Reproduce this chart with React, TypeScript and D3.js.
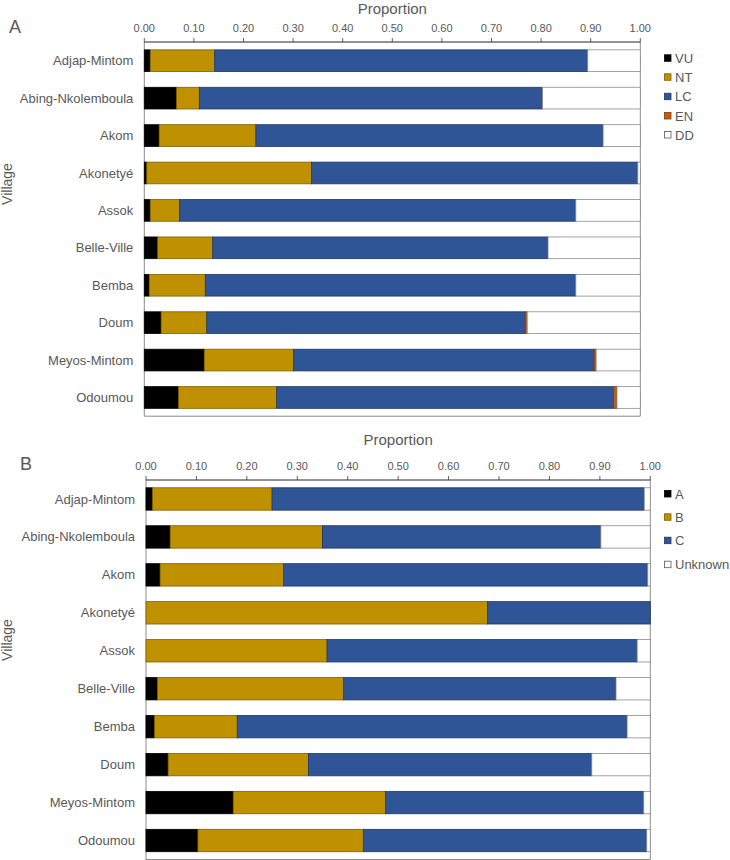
import React from "react";
import * as d3 from "d3";

const villages = [
  "Adjap-Mintom",
  "Abing-Nkolemboula",
  "Akom",
  "Akonetyé",
  "Assok",
  "Belle-Ville",
  "Bemba",
  "Doum",
  "Meyos-Mintom",
  "Odoumou",
];

const tickValues = [0, 0.1, 0.2, 0.3, 0.4, 0.5, 0.6, 0.7, 0.8, 0.9, 1.0];

// Panel A: IUCN status proportions
const seriesA = ["VU", "NT", "LC", "EN", "DD"];
const vuA = [0.012, 0.065, 0.03, 0.005, 0.012, 0.027, 0.01, 0.034, 0.121, 0.069];
const ntA = [0.13, 0.046, 0.195, 0.332, 0.059, 0.111, 0.113, 0.092, 0.18, 0.198];
const lcA = [0.752, 0.692, 0.7, 0.658, 0.799, 0.676, 0.747, 0.642, 0.606, 0.679];
const enA = [0, 0, 0, 0, 0, 0, 0, 0.004, 0.004, 0.007];
const ddA = [0.106, 0.197, 0.075, 0.005, 0.13, 0.186, 0.13, 0.228, 0.089, 0.047];

// Panel B: category proportions
const seriesB = ["A", "B", "C", "Unknown"];
const aB = [0.013, 0.048, 0.028, 0, 0, 0.023, 0.017, 0.044, 0.173, 0.103];
const bB = [0.237, 0.302, 0.245, 0.677, 0.359, 0.369, 0.164, 0.278, 0.302, 0.328];
const cB = [0.738, 0.552, 0.722, 0.323, 0.615, 0.54, 0.773, 0.562, 0.512, 0.562];
const unkB = [0.012, 0.098, 0.005, 0, 0.026, 0.068, 0.046, 0.116, 0.013, 0.007];

const FONT = "'Liberation Sans', Arial, sans-serif";
const TEXT = "#595959";

const fillA: Record<string, string> = {
  VU: "#000000",
  NT: "#BF9000",
  LC: "#2F5597",
  EN: "#C55A11",
  DD: "#FFFFFF",
};
const strokeA: Record<string, string> = {
  VU: "#000000",
  NT: "#7F6000",
  LC: "#1F3864",
  EN: "#843C0C",
  DD: "#8C8C8C",
};
const fillB: Record<string, string> = {
  A: "#000000",
  B: "#BF9000",
  C: "#2F5597",
  Unknown: "#FFFFFF",
};
const strokeB: Record<string, string> = {
  A: "#000000",
  B: "#7F6000",
  C: "#1F3864",
  Unknown: "#8C8C8C",
};

type PanelProps = {
  letter: string;
  series: string[];
  values: number[][];
  fills: Record<string, string>;
  strokes: Record<string, string>;
  x0: number;
  x1: number;
  y0: number;
  y1: number;
  padInner: number;
  titleY: number;
  tickY: number;
  letterX: number;
  letterY: number;
  villageY: number;
  legendY: number[];
};

function Panel(p: PanelProps) {
  const x = d3.scaleLinear().domain([0, 1]).range([p.x0, p.x1]);
  const y = d3
    .scaleBand<string>()
    .domain(villages)
    .range([p.y0, p.y1])
    .paddingInner(p.padInner)
    .paddingOuter(p.padInner / 2);
  const rows = villages.map((v, i) => {
    const vals = p.values.map((arr) => arr[i]);
    const stack: { key: string; s: number; e: number }[] = [];
    let acc = 0;
    p.series.forEach((k, j) => {
      stack.push({ key: k, s: acc, e: acc + vals[j] });
      acc += vals[j];
    });
    return { v, stack };
  });
  const cx = (p.x0 + p.x1) / 2;
  return (
    <g>
      <text x={cx} y={p.titleY} textAnchor="middle" fontSize={15} fill={TEXT} fontFamily={FONT}>
        Proportion
      </text>
      <text x={p.letterX} y={p.letterY} fontSize={18} fill={TEXT} fontFamily={FONT}>
        {p.letter}
      </text>
      <text
        transform={`translate(12,${p.villageY}) rotate(-90)`}
        textAnchor="middle"
        fontSize={14}
        fill={TEXT}
        fontFamily={FONT}
      >
        Village
      </text>
      {tickValues.map((t) => (
        <g key={t}>
          <text x={x(t)} y={p.tickY} textAnchor="middle" fontSize={11} fill={TEXT} fontFamily={FONT}>
            {d3.format(".2f")(t)}
          </text>
          <line x1={x(t)} x2={x(t)} y1={p.y0 - 4} y2={p.y0} stroke="#404040" strokeWidth={0.8} />
        </g>
      ))}
      {/* frame */}
      <line x1={p.x0} x2={p.x0} y1={p.y0} y2={p.y1} stroke="#8C8C8C" strokeWidth={1} />
      <line x1={p.x1} x2={p.x1} y1={p.y0} y2={p.y1} stroke="#8C8C8C" strokeWidth={1} />
      <line x1={p.x0} x2={p.x1} y1={p.y1} y2={p.y1} stroke="#8C8C8C" strokeWidth={1} />
      {rows.map((r) => (
        <g key={r.v}>
          <text
            x={p.x0 - 11}
            y={(y(r.v) as number) + y.bandwidth() / 2}
            dy="0.35em"
            textAnchor="end"
            fontSize={13}
            fill={TEXT}
            fontFamily={FONT}
          >
            {r.v}
          </text>
          {r.stack
            .filter((s) => s.e - s.s > 0)
            .map((s) => (
              <rect
                key={s.key}
                x={x(s.s)}
                y={y(r.v) as number}
                width={x(s.e) - x(s.s)}
                height={y.bandwidth()}
                fill={p.fills[s.key]}
                stroke={p.strokes[s.key]}
                strokeWidth={0.8}
              />
            ))}
        </g>
      ))}
      <line x1={p.x0} x2={p.x1} y1={p.y0} y2={p.y0} stroke="#262626" strokeWidth={1} />
      {p.series.map((k, i) => (
        <g key={k}>
          <rect
            x={664.5}
            y={p.legendY[i] - 3.5}
            width={6.5}
            height={6.5}
            fill={p.fills[k]}
            stroke={p.strokes[k] === "#8C8C8C" ? "#595959" : p.strokes[k]}
            strokeWidth={0.8}
          />
          <text x={675} y={p.legendY[i]} dy="0.36em" fontSize={13} fill={TEXT} fontFamily={FONT}>
            {k}
          </text>
        </g>
      ))}
    </g>
  );
}

export default function App() {
  return (
    <svg
      width={730}
      height={860}
      style={{ position: "absolute", left: 0, top: 0, background: "#fff" }}
    >
      <rect x={0} y={0} width={730} height={860} fill="#fff" />
      <Panel
        letter="A"
        series={seriesA}
        values={[vuA, ntA, lcA, enA, ddA]}
        fills={fillA}
        strokes={strokeA}
        x0={144.3}
        x1={640.3}
        y0={42}
        y1={416.2}
        padInner={0.42}
        titleY={14}
        tickY={32.3}
        letterX={9}
        letterY={33}
        villageY={184}
        legendY={[58.3, 77.3, 96.7, 116, 135]}
      />
      <Panel
        letter="B"
        series={seriesB}
        values={[aB, bB, cB, unkB]}
        fills={fillB}
        strokes={strokeB}
        x0={146}
        x1={650.3}
        y0={480}
        y1={859.5}
        padInner={0.41}
        titleY={445}
        tickY={470}
        letterX={20}
        letterY={470}
        villageY={640}
        legendY={[494, 517.3, 540.7, 564.7]}
      />
    </svg>
  );
}
